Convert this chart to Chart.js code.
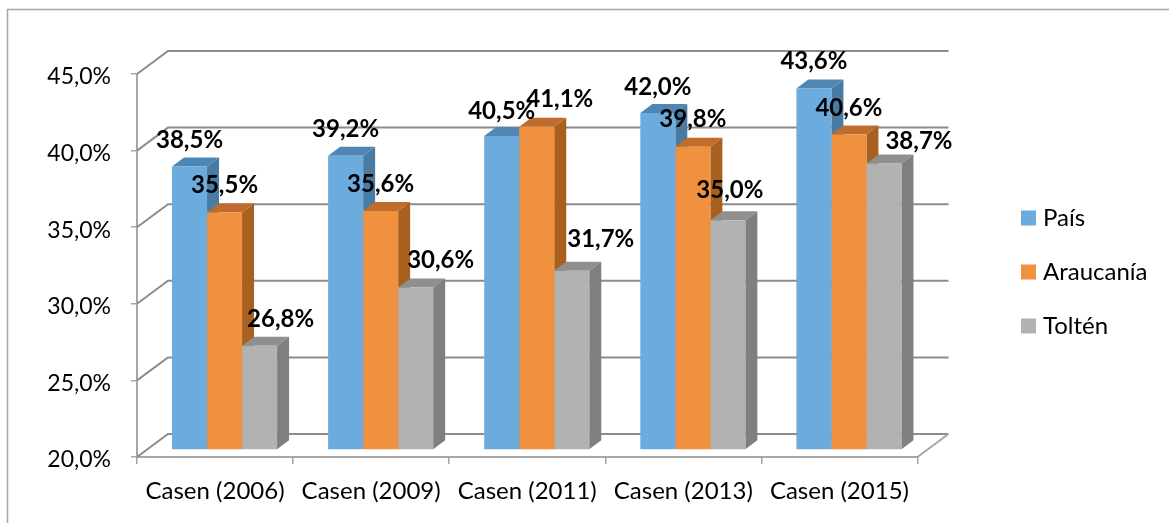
<!DOCTYPE html>
<html><head><meta charset="utf-8">
<style>html,body{margin:0;padding:0;background:#fff}#w{width:1169px;height:523px;position:relative}</style>
<script src="https://cdn.jsdelivr.net/npm/chart.js@4/dist/chart.umd.min.js"></script>
</head><body><div id="w"><canvas id="c"></canvas></div>
<script>
const categories = ["Casen (2006)","Casen (2009)","Casen (2011)","Casen (2013)","Casen (2015)"];
const pais = [38.5,39.2,40.5,42.0,43.6];
const araucania = [35.5,35.6,41.1,39.8,40.6];
const tolten = [26.8,30.6,31.7,35.0,38.7];
const seriesNames = ["País","Araucanía","Toltén"];

const FONT = "Lato, Carlito, Calibri, sans-serif";
const fmt = v => v.toFixed(1).replace('.',',') + '%';
// 3D projection offsets
const WALL = {dx:31, dy:-23};
const BAR = {dx:9.5, dy:-7, ddx:12, ddy:-9};
const shades = [
  {top:'#4f86b3', side:'#4a7ba3'},
  {top:'#bf6c2d', side:'#a8601f'},
  {top:'#8f8f8f', side:'#7f7f7f'}
];
// hand placement of labels, as in the original [dx,dy]
const nudges = [
  [[0,1],[0,0],[0,2],[0,1],[0,0]],
  [[0,0],[0,0],[23,0],[0,0],[0,1]],
  [[21,0],[25,0],[29,-4],[2,-3],[35,5]]
];

const threeD = {
  id:'threeD',
  beforeDatasetsDraw(chart){
    const {ctx,chartArea:a,scales:{y}} = chart;
    ctx.save();
    // back wall gridlines and left wall diagonals
    ctx.strokeStyle='#8c8c8c'; ctx.lineWidth=2;
    y.ticks.forEach(t=>{
      const p=y.getPixelForValue(t.value);
      ctx.beginPath();
      ctx.moveTo(a.left,p); ctx.lineTo(a.left+WALL.dx,p+WALL.dy);
      ctx.lineTo(a.right+WALL.dx,p+WALL.dy);
      ctx.stroke();
    });
    // floor right edge
    ctx.strokeStyle='#a6a6a6';
    ctx.beginPath();
    ctx.moveTo(a.right,a.bottom); ctx.lineTo(a.right+WALL.dx,a.bottom+WALL.dy); ctx.stroke();
    ctx.restore();
    // bar tops and sides first, left to right; the library draws the fronts over them
    ctx.save();
    ctx.translate(BAR.dx,BAR.dy);
    chart.data.datasets.forEach((d,i)=>{
      const s=shades[i];
      chart.getDatasetMeta(i).data.forEach(el=>{
        const p=el.getProps(['x','y','base','width'],true);
        const l=p.x-p.width/2, r=p.x+p.width/2;
        ctx.fillStyle=s.side;
        ctx.beginPath();
        ctx.moveTo(r,p.y); ctx.lineTo(r+BAR.ddx,p.y+BAR.ddy);
        ctx.lineTo(r+BAR.ddx,p.base+BAR.ddy); ctx.lineTo(r,p.base); ctx.closePath(); ctx.fill();
        ctx.fillStyle=s.top;
        ctx.beginPath();
        ctx.moveTo(l,p.y); ctx.lineTo(l+BAR.ddx,p.y+BAR.ddy);
        ctx.lineTo(r+BAR.ddx,p.y+BAR.ddy); ctx.lineTo(r,p.y); ctx.closePath(); ctx.fill();
      });
    });
  },
  afterDatasetsDraw(chart){
    const {ctx}=chart;
    ctx.restore();
    ctx.save();
    ctx.font='bold 24px '+FONT; ctx.fillStyle='#000';
    ctx.textAlign='center'; ctx.textBaseline='middle';
    chart.data.datasets.forEach((d,i)=>{
      chart.getDatasetMeta(i).data.forEach((el,j)=>{
        const n=nudges[i][j];
        ctx.fillText(fmt(d.data[j]), el.x+BAR.dx+n[0], el.y+BAR.dy-27+n[1]);
      });
    });
    ctx.restore();
  },
  afterLayout(chart){
    const L=chart.legend;
    L.left=996; L.right=1169; L.top=60; L.bottom=484;
    L.adjustHitBoxes && L.adjustHitBoxes();
  },
  beforeDraw(chart){
    const {ctx}=chart;
    ctx.save();
    ctx.strokeStyle='#a6a6a6'; ctx.lineWidth=1.5;
    ctx.beginPath(); ctx.moveTo(7.5,523); ctx.lineTo(7.5,9.5); ctx.lineTo(1169,9.5); ctx.stroke();
    ctx.restore();
  }
};
Chart.defaults.font.family=FONT;
const barOpts={clip:false,base:20,categoryPercentage:.673,barPercentage:1,borderWidth:0};
new Chart(document.getElementById('c'),{
  type:'bar',
  data:{labels:categories,datasets:[
    {label:seriesNames[0],data:pais,backgroundColor:'#6cabdd',...barOpts},
    {label:seriesNames[1],data:araucania,backgroundColor:'#f09140',...barOpts},
    {label:seriesNames[2],data:tolten,backgroundColor:'#b2b2b2',...barOpts}
  ]},
  plugins:[threeD],
  options:{
    responsive:true,maintainAspectRatio:false,animation:false,
    layout:{padding:{left:0,right:90,top:74,bottom:0}},
    plugins:{
      tooltip:{enabled:false},
      legend:{position:'right',labels:{usePointStyle:true,pointStyle:'rect',boxWidth:5,boxHeight:15,padding:30,color:'#000',font:{size:24}}}
    },
    scales:{
      x:{
        afterFit(s){s.height=66;},
        grid:{drawOnChartArea:false,color:'#a6a6a6',lineWidth:1.5,tickLength:7},
        border:{color:'#a6a6a6',width:2},
        ticks:{color:'#000',font:{size:24},padding:13,maxRotation:0,autoSkip:false}
      },
      y:{
        min:20,max:45,
        afterFit(s){s.width=137;},
        grid:{drawOnChartArea:false,color:'#a6a6a6',lineWidth:1.5,tickLength:6},
        border:{color:'#a6a6a6',width:2},
        ticks:{stepSize:5,color:'#000',font:{size:23},padding:20,labelOffset:3,callback:v=>fmt(v)}
      }
    }
  }
});
</script></body></html>
